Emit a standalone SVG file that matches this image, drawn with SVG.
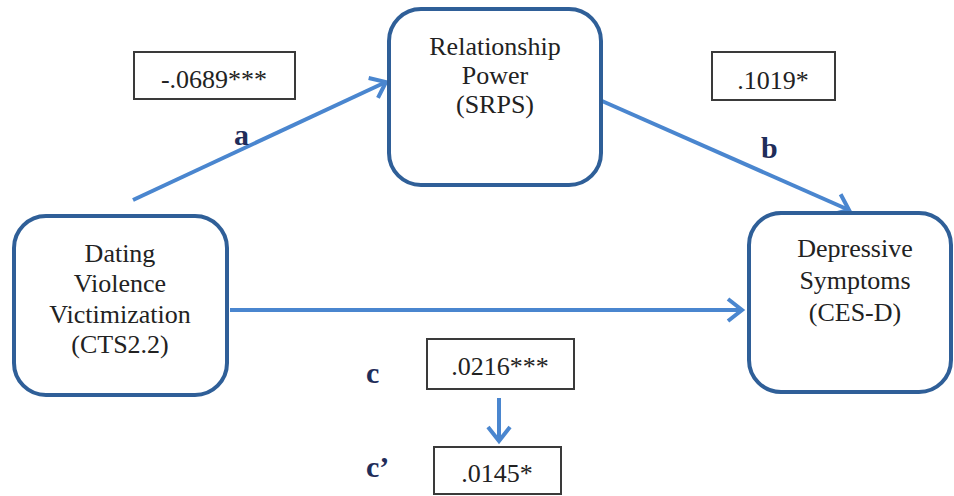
<svg xmlns="http://www.w3.org/2000/svg" width="954" height="496" viewBox="0 0 954 496">
  <style>
    .node { fill: #ffffff; stroke: #2f5f98; stroke-width: 4; }
    .ntext { font-family: "Liberation Serif", "Times New Roman", serif; font-size: 26px; fill: #222222; text-anchor: middle; }
    .vbox { fill: #ffffff; stroke: #3a3a3a; stroke-width: 2; }
    .vtext { font-family: "Liberation Serif", "Times New Roman", serif; font-size: 26px; fill: #222222; text-anchor: middle; }
    .path-label { font-family: "Liberation Serif", "Times New Roman", serif; font-size: 30px; font-weight: bold; fill: #1f2d5a; }
    .conn { stroke: #4a86cf; stroke-width: 4; fill: none; }
  </style>
  <defs>
    <marker id="arrow" viewBox="0 0 16 24" refX="15" refY="12" markerWidth="16" markerHeight="24" markerUnits="userSpaceOnUse" orient="auto" overflow="visible">
      <path d="M1,1 L15,12 L1,23" fill="none" stroke="#4a86cf" stroke-width="4" stroke-linejoin="miter"/>
    </marker>
  </defs>
  <rect width="954" height="496" fill="#ffffff"/>

  <g id="connectors">
    <line class="conn" x1="133" y1="200" x2="386" y2="82" marker-end="url(#arrow)"/>
    <line class="conn" x1="602" y1="101" x2="849" y2="210" marker-end="url(#arrow)"/>
    <line class="conn" x1="230" y1="310" x2="742" y2="310" marker-end="url(#arrow)"/>
    <line class="conn" x1="499" y1="398" x2="499" y2="441" marker-end="url(#arrow)"/>
  </g>

  <g id="node-relationship-power">
    <rect class="node" x="389" y="9" width="212" height="176" rx="32" ry="32"/>
    <text class="ntext" x="495" y="55">Relationship</text>
    <text class="ntext" x="495" y="84">Power</text>
    <text class="ntext" x="495" y="113">(SRPS)</text>
  </g>

  <g id="node-dating-violence">
    <rect class="node" x="14" y="216" width="213" height="179" rx="32" ry="32"/>
    <text class="ntext" x="120" y="262">Dating</text>
    <text class="ntext" x="120" y="292">Violence</text>
    <text class="ntext" x="120" y="323">Victimization</text>
    <text class="ntext" x="120" y="353">(CTS2.2)</text>
  </g>

  <g id="node-depressive-symptoms">
    <rect class="node" x="749" y="213" width="202" height="179" rx="32" ry="32"/>
    <text class="ntext" x="855" y="257">Depressive</text>
    <text class="ntext" x="855" y="289">Symptoms</text>
    <text class="ntext" x="855" y="321">(CES-D)</text>
  </g>

  <g id="label-a">
    <rect class="vbox" x="134" y="52" width="161" height="47"/>
    <text class="vtext" x="214" y="88">-.0689***</text>
    <text class="path-label" x="234" y="145">a</text>
  </g>

  <g id="label-b">
    <rect class="vbox" x="712" y="52" width="123" height="48"/>
    <text class="vtext" x="773" y="89">.1019*</text>
    <text class="path-label" x="761" y="158">b</text>
  </g>

  <g id="label-c">
    <rect class="vbox" x="427" y="339" width="147" height="50"/>
    <text class="vtext" x="500" y="375">.0216***</text>
    <text class="path-label" x="366" y="383">c</text>
  </g>

  <g id="label-c-prime">
    <rect class="vbox" x="434" y="447" width="127" height="47"/>
    <text class="vtext" x="497" y="482">.0145*</text>
    <text class="path-label" x="366" y="477">c’</text>
  </g>
</svg>
